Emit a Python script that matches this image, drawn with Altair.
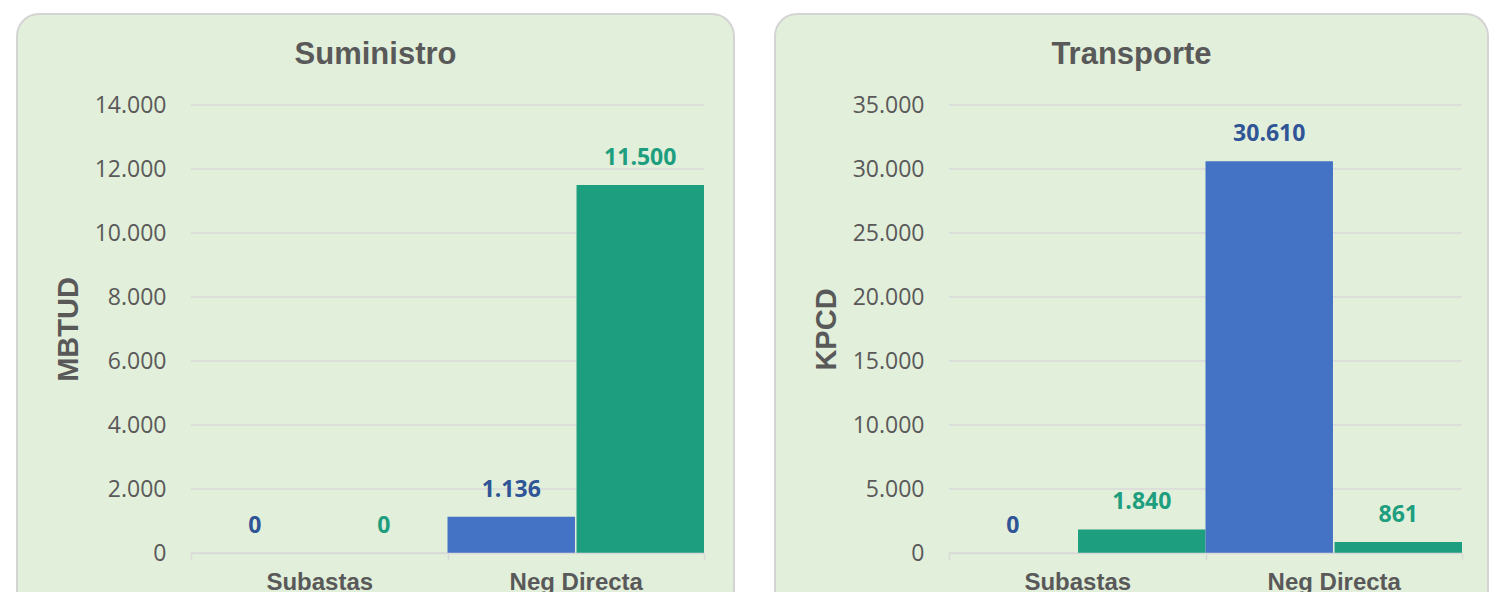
import altair as alt
import pandas as pd

categories = ["Subastas", "Neg Directa"]
series = ["Serie 1", "Serie 2"]
suministro_s1 = [0, 1136]
suministro_s2 = [0, 11500]
transporte_s1 = [0, 30610]
transporte_s2 = [1840, 861]
suministro_ticks = [0, 2000, 4000, 6000, 8000, 10000, 12000, 14000]
transporte_ticks = [0, 5000, 10000, 15000, 20000, 25000, 30000, 35000]

W, H = 513, 448
BG = "#e2efda"
BORDER = "#d4d4d4"
GRID = "#d9d9d9"
TXT = "#595959"
BAR_COLORS = ["#4472c4", "#1d9e7e"]
LABEL_COLORS = ["#2f5597", "#1d9e7e"]
FMT = "replace(format(datum.value, ','), ',', '.')"


def frame(s1, s2):
    rows = []
    for i, c in enumerate(categories):
        rows.append({"cat": c, "serie": series[0], "valor": s1[i]})
        rows.append({"cat": c, "serie": series[1], "valor": s2[i]})
    return pd.DataFrame(rows)


def panel(df, title, ytitle, ticks, right_pad):
    box_left, box_right = -174, W + right_pad
    one = pd.DataFrame({"t": [title]})

    bg = alt.Chart(one).mark_rect(
        fill=BG, stroke=BORDER, strokeWidth=2, cornerRadius=22
    ).encode(
        x=alt.value(box_left), x2=alt.value(box_right),
        y=alt.value(-91), y2=alt.value(H + 60),
    )

    ttl = alt.Chart(one).mark_text(
        font="Liberation Sans", fontWeight="bold", fontSize=31, color=TXT,
        align="center", baseline="middle",
    ).encode(
        text="t:N",
        x=alt.value((box_left + box_right) / 2),
        y=alt.value(-50),
    )

    grid = alt.Chart(pd.DataFrame({"valor": ticks})).mark_rule(
        color=GRID, strokeWidth=1.5
    ).encode(y=alt.Y("valor:Q", scale=alt.Scale(domain=[ticks[0], ticks[-1]], nice=False)))

    x = alt.X(
        "cat:N", sort=categories,
        scale=alt.Scale(paddingInner=0, paddingOuter=0),
        axis=alt.Axis(
            title=None, labelFont="Liberation Sans", labelFontWeight="bold",
            labelFontSize=24, labelColor=TXT, labelPadding=10, labelAngle=0,
            tickBand="extent", tickSize=7, tickColor=GRID, tickWidth=1.5,
            domainColor=GRID, domainWidth=1.5, grid=False, zindex=1,
        ),
    )
    xo = alt.XOffset("serie:N", sort=series, scale=alt.Scale(paddingInner=0.012, paddingOuter=0))
    y = alt.Y(
        "valor:Q",
        scale=alt.Scale(domain=[ticks[0], ticks[-1]], nice=False),
        axis=alt.Axis(
            values=ticks, labelExpr=FMT, title=ytitle, grid=False, domain=False,
            ticks=False, labelPadding=25, labelFont="Open Sans", labelFontSize=23,
            labelColor=TXT, labelBaseline="middle",
            titleFont="Liberation Sans", titleFontWeight="bold", titleFontSize=29,
            titleColor=TXT, titleX=-123, titleY=H / 2, titleAngle=270,
            titleAlign="center", titleBaseline="middle", zindex=1,
        ),
    )

    bars = alt.Chart(df).mark_bar().encode(
        x=x, xOffset=xo, y=y,
        color=alt.Color("serie:N", sort=series, scale=alt.Scale(domain=series, range=BAR_COLORS), legend=None),
    )

    labels = alt.Chart(df).transform_calculate(
        label="replace(format(datum.valor, ','), ',', '.')"
    ).mark_text(
        font="Open Sans", fontWeight="bold", fontSize=23, dy=-27, baseline="middle", align="center"
    ).encode(
        x=alt.X("cat:N", sort=categories),
        xOffset=alt.XOffset("serie:N", sort=series),
        y=alt.Y("valor:Q"),
        text="label:N",
        color=alt.Color("serie:N", sort=series, scale=alt.Scale(domain=series, range=LABEL_COLORS), legend=None),
    )

    return alt.layer(bg, ttl, grid, bars, labels).resolve_scale(color="independent").properties(width=W, height=H)


left = panel(frame(suministro_s1, suministro_s2), "Suministro", "MBTUD", suministro_ticks, 30)
right = panel(frame(transporte_s1, transporte_s2), "Transporte", "KPCD", transporte_ticks, 26)

chart = alt.hconcat(left, right, spacing=39).properties(
    padding={"left": 16, "top": 13, "right": 0, "bottom": 0},
    background="white",
).configure_view(stroke=None)

chart.save("out.html", embed_options={"renderer": "svg", "actions": False})
